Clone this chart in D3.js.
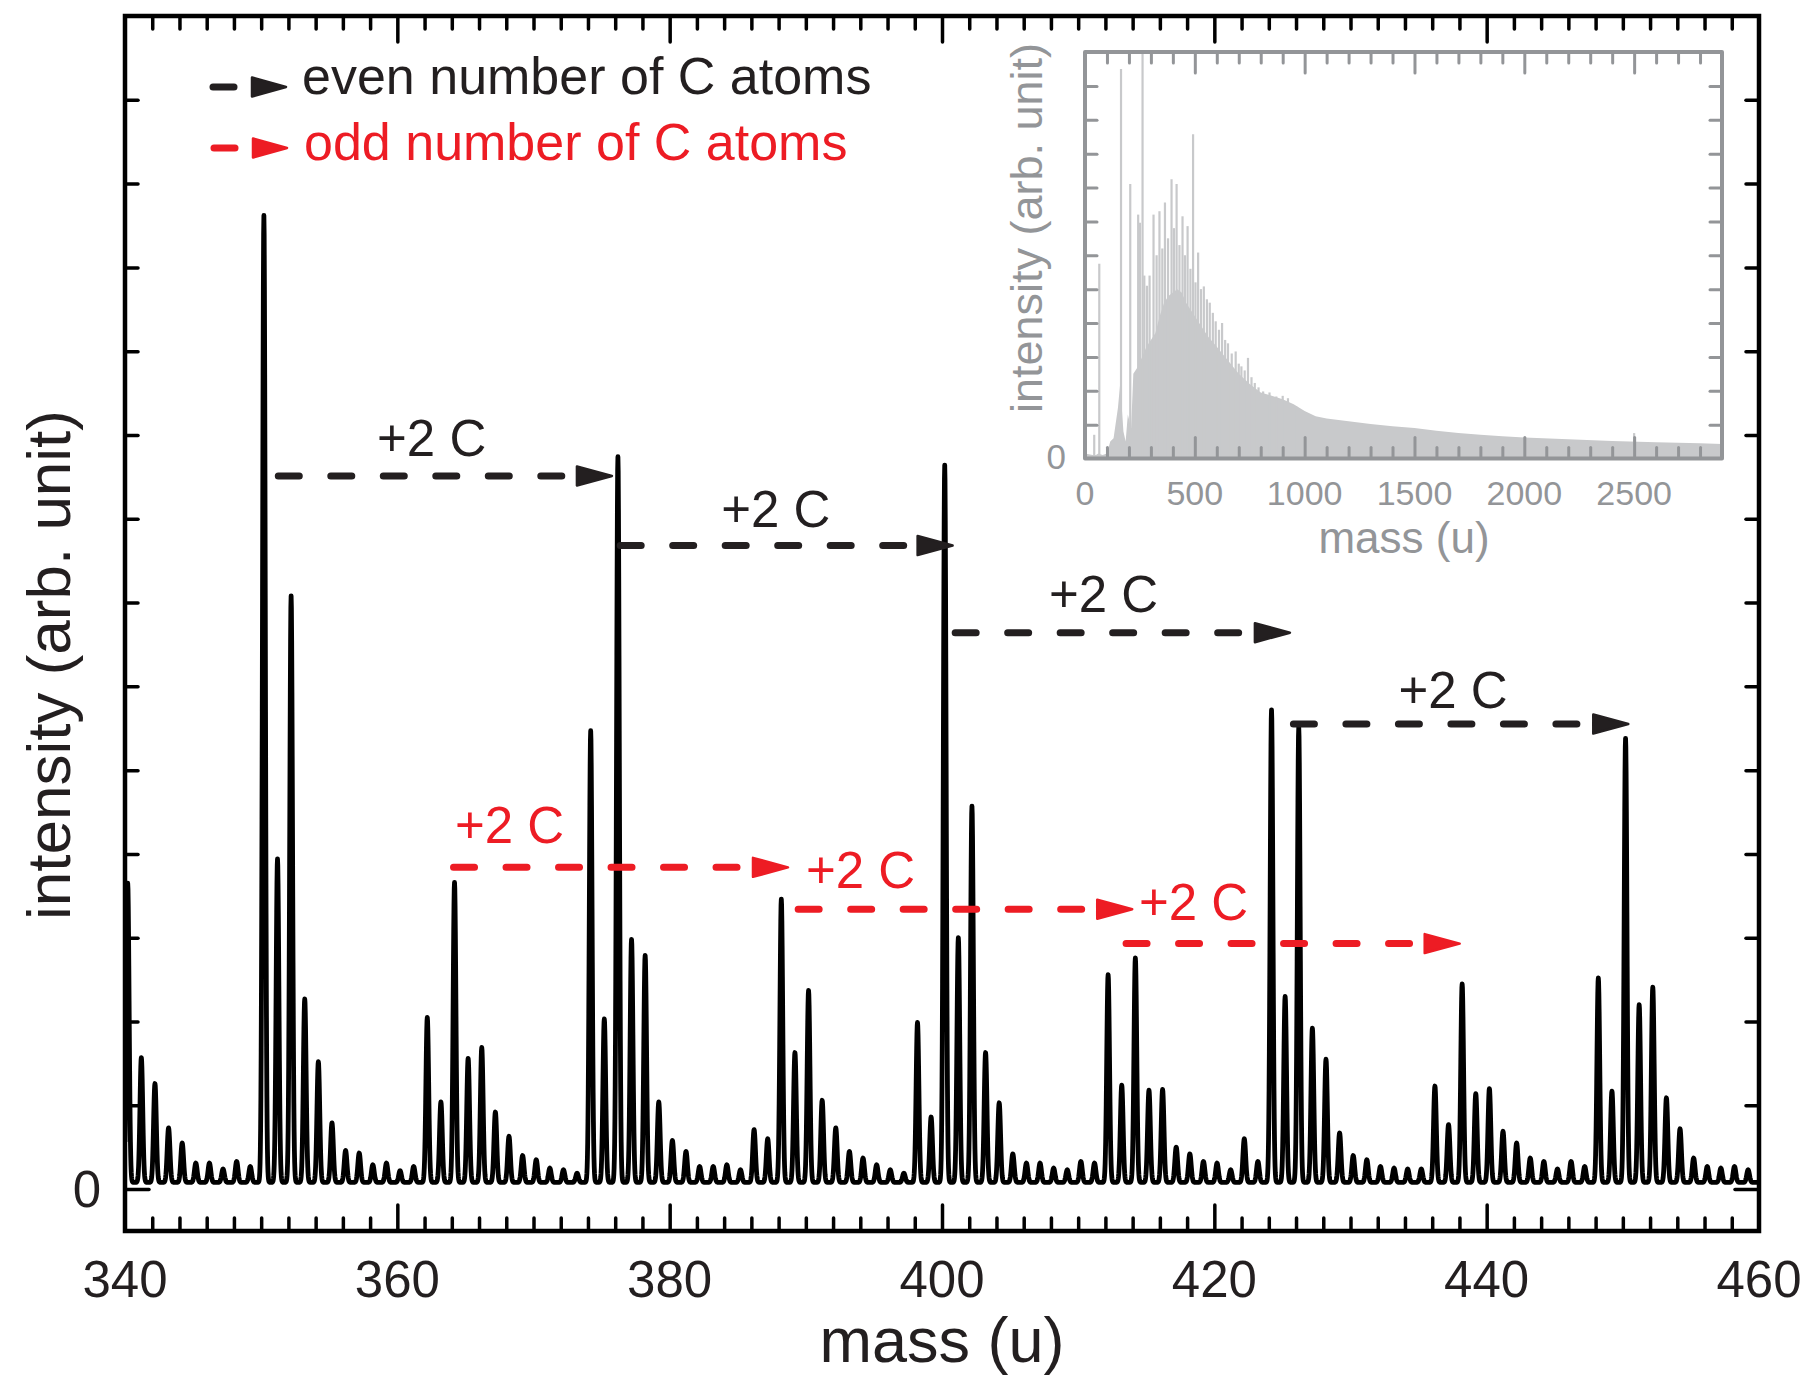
<!DOCTYPE html>
<html>
<head>
<meta charset="utf-8">
<script src="https://cdn.jsdelivr.net/npm/d3@7"></script>
<style>
  body { margin: 0; background: #fff; }
  svg { display: block; }
  text { font-family: "Liberation Sans", Arial, Helvetica, sans-serif; }
</style>
</head>
<body>
<svg id="chart" width="1806" height="1382"></svg>
<script>
// ---------------- DATA ----------------
// main spectrum: nominal masses (u) and peak intensities (arb. unit, 1 = one y tick)
const peakMass = [
  340,341,342,343,344,345,346,347,348,349,
  350,351,352,353,354,355,356,357,358,359,
  360,361,362,363,364,365,366,367,368,369,
  370,371,372,373,374,375,376,377,378,379,
  380,381,382,383,384,385,386,387,388,389,
  390,391,392,393,394,395,396,397,398,399,
  400,401,402,403,404,405,406,407,408,409,
  410,411,412,413,414,415,416,417,418,419,
  420,421,422,423,424,425,426,427,428,429,
  430,431,432,433,434,435,436,437,438,439,
  440,441,442,443,444,445,446,447,448,449,
  450,451,452,453,454,455,456,457,458,459,460
];
const peakIntensity = [
  3.65,1.57,1.26,0.73,0.55,0.31,0.31,0.24,0.33,0.27,
  11.62,3.94,7.08,2.27,1.52,0.79,0.46,0.43,0.29,0.31,
  0.22,0.27,2.05,1.04,3.66,1.56,1.69,0.92,0.63,0.40,
  0.35,0.25,0.23,0.19,5.47,2.03,8.74,2.98,2.79,1.04,
  0.58,0.45,0.27,0.27,0.29,0.23,0.71,0.60,3.46,1.63,
  2.37,1.06,0.73,0.45,0.37,0.29,0.23,0.19,1.99,0.86,
  8.64,3.00,4.57,1.63,1.03,0.42,0.31,0.31,0.25,0.23,
  0.33,0.31,2.56,1.24,2.76,1.18,1.19,0.50,0.42,0.33,
  0.31,0.23,0.60,0.33,5.72,2.30,5.51,1.92,1.55,0.67,
  0.40,0.35,0.27,0.25,0.24,0.24,1.23,0.77,2.45,1.14,
  1.20,0.69,0.55,0.37,0.33,0.24,0.33,0.27,2.52,1.17,
  5.38,2.20,2.41,1.09,0.72,0.37,0.27,0.25,0.27,0.23,0.20
];
const massDefect = 0.2;      // peaks sit slightly above nominal mass
const baselineLevel = 0.08;
const peakSigma = 0.1;

const xTickLabels = [340, 360, 380, 400, 420, 440, 460];
const yTickLabels = [0];

// arrows: [start mass, end mass, intensity level]
const evenArrows = [[351.0, 375.76, 8.51], [376.11, 400.78, 7.68], [400.71, 425.55, 6.64], [425.55, 450.40, 5.55]];
const oddArrows  = [[363.87, 388.69, 3.84], [389.18, 413.97, 3.34], [413.26, 438.02, 2.93]];
// labels: [centre mass, baseline intensity]
const evenLabels = [[362.52, 8.75], [387.80, 7.90], [411.86, 6.89], [437.53, 5.74]];
const oddLabels  = [[368.24, 4.13], [394.02, 3.59], [418.48, 3.21]];
const arrowText = "+2 C";

const legendLabels = ["even number of C atoms", "odd number of C atoms"];

// inset: full-range spectrum
const insetEnvMass = [0,35,50,60,80,100,115,130,150,160,175,185,195,210,220,240,260,280,300,320,340,360,380,400,420,440,460,480,500,530,560,600,650,700,750,800,850,900,950,1000,1050,1100,1200,1300,1400,1500,1600,1700,1800,1900,2000,2200,2400,2600,2800,2900];
const insetEnvValue = [0.15,0.1,0.1,0.15,0.1,0.15,0.5,0.6,1.5,2.2,0.8,0.5,1.3,0.9,2.5,2.7,3.0,3.3,3.5,3.7,4.2,4.6,4.8,4.9,5.0,4.9,4.6,4.4,4.2,3.9,3.6,3.3,2.9,2.5,2.2,1.95,1.85,1.75,1.6,1.4,1.25,1.18,1.1,1.02,0.95,0.9,0.82,0.75,0.7,0.66,0.62,0.57,0.52,0.48,0.45,0.43];
const insetPeakMass  = [42,65,164,206,242,250,262,270,282,294,312,326,339,352,364,378,394,405,417,430,444,455,467,480,492,503,515,528,541,555,568,582,595,610,624,638,651,668,686,700,712,727,742,758,773,790,811,840,871,900,924,962,2500];
const insetPeakValue = [0.7,5.75,11.5,8.1,7.2,6.96,12.0,5.4,5.1,5.4,7.2,6.0,7.3,6.2,7.56,6.5,8.24,6.8,8.1,6.3,7.15,6.0,6.86,5.6,9.57,5.2,6.08,5.0,5.08,4.7,4.6,4.3,4.05,3.8,4.0,3.5,3.4,3.1,3.16,2.8,2.72,2.6,2.97,2.4,2.23,2.1,1.98,1.95,1.83,1.85,1.78,1.53,0.75];
const insetXTickLabels = [0, 500, 1000, 1500, 2000, 2500];
const insetYTickLabels = [0];

// ---------------- DRAWING ----------------
const BLACK = "#231f20", RED = "#ed1c24", GREY = "#939598", LIGHT = "#c8c9cb";
const svg = d3.select("#chart");

const x = d3.scaleLinear().domain([340, 460]).range([125, 1759]);
const y = d3.scaleLinear().domain([-0.5, 14]).range([1231, 16]);

svg.append("defs").append("clipPath").attr("id", "plotclip")
  .append("rect").attr("x", x(340)).attr("y", y(14)).attr("width", x(460) - x(340)).attr("height", y(-0.5) - y(14));

// spectrum curve built from the peak list (gaussian line shape)
const curvePts = [];
const step = 0.02;
for (let k = 0; k <= Math.round((460 - 340) / step); k++) {
  const m = 340 + k * step;
  let s = baselineLevel;
  for (let i = 0; i < peakMass.length; i++) {
    const d = m - (peakMass[i] + massDefect);
    if (Math.abs(d) < 0.7) s += (peakIntensity[i] - baselineLevel) * Math.exp(-d * d / (2 * peakSigma * peakSigma));
  }
  curvePts.push([m, s]);
}
svg.append("path")
  .attr("clip-path", "url(#plotclip)")
  .attr("d", d3.line().x(d => x(d[0])).y(d => y(d[1]))(curvePts))
  .attr("fill", "none").attr("stroke", "#000").attr("stroke-width", 4.8)
  .attr("stroke-linejoin", "round");

// axes ticks (inward)
const minorX = d3.range(342, 460, 2).filter(v => v % 20 !== 0);
const majorX = xTickLabels.filter(v => v > 340 && v < 460);
function styleAxis(g) {
  g.select(".domain").remove();
  g.selectAll("line").attr("stroke", "#000").attr("stroke-width", 3.5).attr("stroke-linecap", "round");
  g.selectAll("text").remove();
}
svg.append("g").attr("transform", `translate(0,${y(-0.5)})`)
  .call(d3.axisBottom(x).tickValues(minorX).tickSize(-13).tickFormat("")).call(styleAxis);
svg.append("g").attr("transform", `translate(0,${y(-0.5)})`)
  .call(d3.axisBottom(x).tickValues(majorX).tickSize(-26).tickFormat("")).call(styleAxis);
svg.append("g").attr("transform", `translate(0,${y(14)})`)
  .call(d3.axisTop(x).tickValues(minorX).tickSize(-13).tickFormat("")).call(styleAxis);
svg.append("g").attr("transform", `translate(0,${y(14)})`)
  .call(d3.axisTop(x).tickValues(majorX).tickSize(-26).tickFormat("")).call(styleAxis);
const yMinor = d3.range(1, 14);
svg.append("g").attr("transform", `translate(${x(340)},0)`)
  .call(d3.axisLeft(y).tickValues(yMinor).tickSize(-13).tickFormat("")).call(styleAxis);
svg.append("g").attr("transform", `translate(${x(340)},0)`)
  .call(d3.axisLeft(y).tickValues(yTickLabels).tickSize(-24).tickFormat("")).call(styleAxis);
svg.append("g").attr("transform", `translate(${x(460)},0)`)
  .call(d3.axisRight(y).tickValues(yMinor).tickSize(-13).tickFormat("")).call(styleAxis);
svg.append("g").attr("transform", `translate(${x(460)},0)`)
  .call(d3.axisRight(y).tickValues(yTickLabels).tickSize(-24).tickFormat("")).call(styleAxis);

// frame
svg.append("rect").attr("x", x(340)).attr("y", y(14)).attr("width", x(460) - x(340)).attr("height", y(-0.5) - y(14))
  .attr("fill", "none").attr("stroke", "#000").attr("stroke-width", 4.5);

// tick labels
svg.append("g").selectAll("text").data(xTickLabels).join("text")
  .attr("x", d => x(d)).attr("y", 1297).attr("text-anchor", "middle")
  .attr("font-size", 51).attr("fill", BLACK).text(d => d);
svg.append("g").selectAll("text").data(yTickLabels).join("text")
  .attr("x", 101).attr("y", d => y(d) + 18).attr("text-anchor", "end")
  .attr("font-size", 51).attr("fill", BLACK).text(d => d);

// axis titles
svg.append("text").attr("x", 942).attr("y", 1362).attr("text-anchor", "middle")
  .attr("font-size", 63).attr("fill", BLACK).text("mass (u)");
svg.append("text").attr("transform", "translate(70,665) rotate(-90)").attr("text-anchor", "middle")
  .attr("font-size", 62).attr("fill", BLACK).text("intensity (arb. unit)");

// arrows
function drawArrow(g, x0, x1, yy, color) {
  const headLen = 35, headHalf = 9.5;
  g.append("line").attr("x1", x0 + 3.5).attr("x2", x1 - headLen - 8).attr("y1", yy).attr("y2", yy)
    .attr("stroke", color).attr("stroke-width", 7).attr("stroke-linecap", "round")
    .attr("stroke-dasharray", "21,31.5");
  g.append("path").attr("d", `M${x1 - headLen},${yy - headHalf}L${x1},${yy}L${x1 - headLen},${yy + headHalf}Z`)
    .attr("fill", color).attr("stroke", color).attr("stroke-width", 2.5).attr("stroke-linejoin", "round");
}
const arrowsG = svg.append("g");
evenArrows.forEach(a => drawArrow(arrowsG, x(a[0]), x(a[1]), y(a[2]), BLACK));
oddArrows.forEach(a => drawArrow(arrowsG, x(a[0]), x(a[1]), y(a[2]), RED));
svg.append("g").selectAll("text").data(evenLabels).join("text")
  .attr("x", d => x(d[0])).attr("y", d => y(d[1])).attr("text-anchor", "middle")
  .attr("font-size", 51).attr("fill", BLACK).text(arrowText);
svg.append("g").selectAll("text").data(oddLabels).join("text")
  .attr("x", d => x(d[0])).attr("y", d => y(d[1])).attr("text-anchor", "middle")
  .attr("font-size", 51).attr("fill", RED).text(arrowText);

// legend
const legendColors = [BLACK, RED];
const legendY = [87, 148];
const legendBase = [94, 160];
legendLabels.forEach((lab, i) => {
  const c = legendColors[i];
  const g = svg.append("g");
  g.append("line").attr("x1", 213 + i).attr("x2", 234 + i).attr("y1", legendY[i]).attr("y2", legendY[i])
    .attr("stroke", c).attr("stroke-width", 7).attr("stroke-linecap", "round");
  g.append("path").attr("d", `M${252 + i},${legendY[i] - 9.5}L${286 + i},${legendY[i]}L${252 + i},${legendY[i] + 9.5}Z`)
    .attr("fill", c).attr("stroke", c).attr("stroke-width", 2.5).attr("stroke-linejoin", "round");
  g.append("text").attr("x", 302 + 2 * i).attr("y", legendBase[i]).attr("font-size", 52).attr("fill", c).text(lab);
});

// ---------------- INSET ----------------
const xi = d3.scaleLinear().domain([0, 2900]).range([1085, 1722]);
const yi = d3.scaleLinear().domain([0, 12]).range([458.5, 52]);
const inset = svg.append("g");
inset.append("rect").attr("x", xi(0)).attr("y", yi(12)).attr("width", xi(2900) - xi(0)).attr("height", yi(0) - yi(12))
  .attr("fill", "#fff");
inset.append("path")
  .attr("d", d3.area().x((d, i) => xi(insetEnvMass[i])).y0(yi(0)).y1((d, i) => yi(insetEnvValue[i]))(insetEnvValue))
  .attr("fill", LIGHT);
inset.append("g").selectAll("line").data(insetPeakMass).join("line")
  .attr("x1", d => xi(d)).attr("x2", d => xi(d)).attr("y1", yi(0))
  .attr("y2", (d, i) => yi(insetPeakValue[i]))
  .attr("stroke", LIGHT).attr("stroke-width", 2.2);

function styleInsetAxis(g) {
  g.select(".domain").remove();
  g.selectAll("line").attr("stroke", GREY).attr("stroke-width", 3).attr("stroke-linecap", "round");
  g.selectAll("text").remove();
}
const insetMinorX = d3.range(100, 2900, 100).filter(v => v % 500 !== 0);
const insetMajorX = insetXTickLabels.filter(v => v > 0);
[[yi(0), d3.axisBottom], [yi(12), d3.axisTop]].forEach(([ty, ax]) => {
  inset.append("g").attr("transform", `translate(0,${ty})`)
    .call(ax(xi).tickValues(insetMinorX).tickSize(-11).tickFormat("")).call(styleInsetAxis);
  inset.append("g").attr("transform", `translate(0,${ty})`)
    .call(ax(xi).tickValues(insetMajorX).tickSize(-21).tickFormat("")).call(styleInsetAxis);
});
const insetYTicks = d3.range(1, 12);
inset.append("g").attr("transform", `translate(${xi(0)},0)`)
  .call(d3.axisLeft(yi).tickValues(insetYTicks).tickSize(-12).tickFormat("")).call(styleInsetAxis);
inset.append("g").attr("transform", `translate(${xi(2900)},0)`)
  .call(d3.axisRight(yi).tickValues(insetYTicks).tickSize(-12).tickFormat("")).call(styleInsetAxis);
inset.append("rect").attr("x", xi(0)).attr("y", yi(12)).attr("width", xi(2900) - xi(0)).attr("height", yi(0) - yi(12))
  .attr("fill", "none").attr("stroke", GREY).attr("stroke-width", 4).attr("stroke-linejoin", "round");

inset.append("g").selectAll("text").data(insetXTickLabels).join("text")
  .attr("x", d => xi(d)).attr("y", 505).attr("text-anchor", "middle")
  .attr("font-size", 34).attr("fill", GREY).text(d => d);
inset.append("g").selectAll("text").data(insetYTickLabels).join("text")
  .attr("x", 1066).attr("y", d => yi(d) + 10).attr("text-anchor", "end")
  .attr("font-size", 35).attr("fill", GREY).text(d => d);
inset.append("text").attr("x", 1404).attr("y", 553).attr("text-anchor", "middle")
  .attr("font-size", 44).attr("fill", GREY).text("mass (u)");
inset.append("text").attr("transform", "translate(1042,228) rotate(-90)").attr("text-anchor", "middle")
  .attr("font-size", 45).attr("fill", GREY).text("intensity (arb. unit)");
</script>
</body>
</html>
